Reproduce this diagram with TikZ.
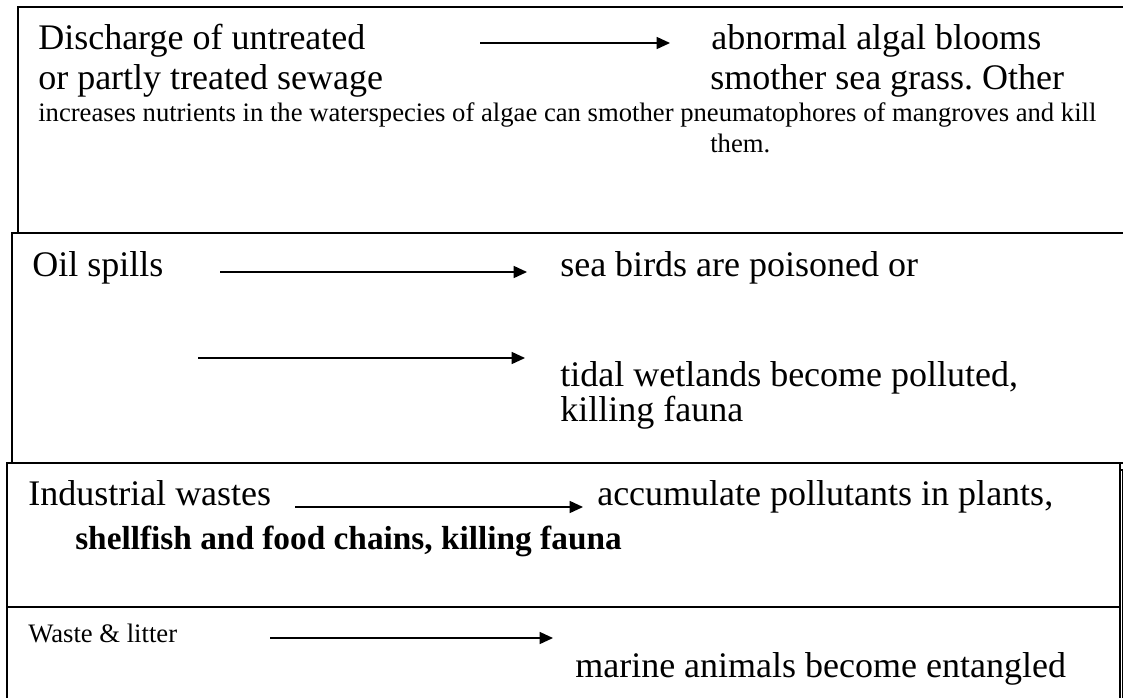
\documentclass[tikz,border=0pt]{standalone}
\usepackage{fontspec}
\setmainfont{Liberation Serif}
\usetikzlibrary{arrows.meta}
\frenchspacing

\begin{document}
\begin{tikzpicture}[
    x=0.75pt, y=-0.75pt,
    panel/.style={draw=black, line width=1.5pt, fill=white},
    big/.style={anchor=base west, inner sep=0pt, font=\fontsize{27}{32}\selectfont},
    small/.style={anchor=base west, inner sep=0pt, font=\fontsize{20}{24}\selectfont},
    heavy/.style={anchor=base west, inner sep=0pt, font=\fontsize{25}{30}\selectfont\bfseries},
    flow/.style={-{Triangle[length=10pt, width=9pt]}, line width=1.1pt},
  ]
    \useasboundingbox (0,0) rectangle (1123,697);
    \clip (0,0) rectangle (1123,697);

    % Panels (stacked, slightly offset)
    \draw[panel] (18,7) rectangle (1135,233);
    \draw[panel] (12,233) rectangle (1135,463);
    \draw[panel, line width=1pt] (7,470) rectangle (1122.5,710);
    \draw[panel] (7,463) rectangle (1120,607);
    \draw[panel] (7,607) rectangle (1120,710);

    % Sewage
    \node[big] (sewA) at (38,49) {Discharge of untreated};
    \node[big] (sewB) at (38,89) {or partly treated sewage};
    \node[big] (algA) at (711,49) {abnormal algal blooms};
    \node[big] (algB) at (710,89) {smother sea grass. Other};
    \node[small] (sewC) at (38,121)
         {increases nutrients in the waterspecies of algae can smother pneumatophores of mangroves and kill};
    \node[small] (sewD) at (710,152) {them.};
    \coordinate (s1) at (480,43);
    \coordinate (e1) at (670,43);
    \draw[flow] (s1) -- (e1);

    % Oil spills
    \node[big] (oil) at (32,276) {Oil spills};
    \node[big] (bird) at (560,276) {sea birds are poisoned or};
    \node[big] (wetA) at (560,386) {tidal wetlands become polluted,};
    \node[big] (wetB) at (560,421) {killing fauna};
    \coordinate (s2) at (220,272);
    \coordinate (e2) at (527,272);
    \coordinate (s3) at (198,358);
    \coordinate (e3) at (525,358);
    \draw[flow] (s2) -- (e2);
    \draw[flow] (s3) -- (e3);

    % Industrial wastes
    \node[big] (ind) at (28,505) {Industrial wastes};
    \node[big] (acc) at (597,505) {accumulate pollutants in plants,};
    \node[heavy] (shell) at (75,549) {shellfish and food chains, killing fauna};
    \coordinate (s4) at (295,507);
    \coordinate (e4) at (583,507);
    \draw[flow] (s4) -- (e4);

    % Waste & litter
    \node[small] (lit) at (28,642) {Waste \& litter};
    \node[big] (ent) at (575,677) {marine animals become entangled};
    \coordinate (s5) at (270,638);
    \coordinate (e5) at (553,638);
    \draw[flow] (s5) -- (e5);
  \end{tikzpicture}
\end{document}
